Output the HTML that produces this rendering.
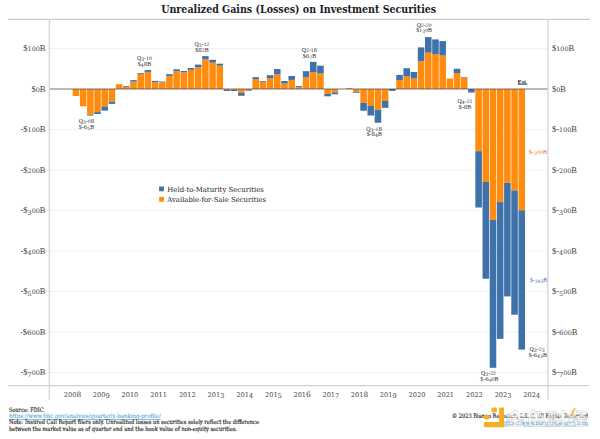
<!DOCTYPE html>
<html><head><meta charset="utf-8">
<style>
html,body{margin:0;padding:0;background:#fff;}
body{width:600px;height:439px;overflow:hidden;position:relative;}
svg{position:absolute;left:0;top:0;}
.ti{font-family:"DejaVu Serif","Liberation Serif",serif;font-weight:bold;font-size:10.2px;fill:#1c1c2a;}
.ax{font-family:"Liberation Serif",serif;font-size:8.5px;fill:#404040;}
.an{font-family:"Liberation Serif",serif;font-size:5.9px;fill:#2a2a2a;}
.lg{font-family:"DejaVu Serif","Liberation Serif",serif;font-size:7px;fill:#1a1a1a;}
.ft{font-family:"DejaVu Serif Condensed","DejaVu Serif","Liberation Serif",serif;font-size:6.1px;fill:#111;stroke:#111;stroke-width:0.12px;}
.lk{font-family:"DejaVu Serif Condensed","DejaVu Serif","Liberation Serif",serif;font-size:6.1px;fill:#3a8fc8;text-decoration:underline;}
.wm{font-family:"Liberation Sans","Noto Sans CJK SC",sans-serif;font-size:17px;font-weight:bold;fill:#fff;fill-opacity:0.72;stroke:#b4b4b4;stroke-opacity:0.75;stroke-width:0.45px;}
</style></head><body>
<svg width="600" height="439" viewBox="0 0 600 439">
<text x="298.7" y="12.6" text-anchor="middle" class="ti" textLength="275" lengthAdjust="spacingAndGlyphs">Unrealized Gains (Losses) on Investment Securities</text>
<line x1="50" x2="547.5" y1="48.50" y2="48.50" stroke="#f1f1f1" stroke-width="1"/>
<line x1="50" x2="547.5" y1="129.50" y2="129.50" stroke="#f1f1f1" stroke-width="1"/>
<line x1="50" x2="547.5" y1="170.00" y2="170.00" stroke="#f1f1f1" stroke-width="1"/>
<line x1="50" x2="547.5" y1="210.50" y2="210.50" stroke="#f1f1f1" stroke-width="1"/>
<line x1="50" x2="547.5" y1="251.00" y2="251.00" stroke="#f1f1f1" stroke-width="1"/>
<line x1="50" x2="547.5" y1="291.50" y2="291.50" stroke="#f1f1f1" stroke-width="1"/>
<line x1="50" x2="547.5" y1="332.00" y2="332.00" stroke="#f1f1f1" stroke-width="1"/>
<line x1="50" x2="547.5" y1="372.50" y2="372.50" stroke="#f1f1f1" stroke-width="1"/>
<line x1="8" x2="590" y1="19.4" y2="19.4" stroke="#cbcbcb" stroke-width="1.3"/>
<line x1="8" x2="589" y1="385.7" y2="385.7" stroke="#cfcfcf" stroke-width="1.3"/>
<line x1="49.4" x2="49.4" y1="19" y2="400" stroke="#d3d3d3" stroke-width="1.3"/>
<line x1="547.9" x2="547.9" y1="19" y2="400" stroke="#d3d3d3" stroke-width="1.3"/>
<rect x="72.70" y="89.00" width="6.55" height="7.00" fill="#ff8c0f"/>
<rect x="79.89" y="89.00" width="6.55" height="17.30" fill="#ff8c0f"/>
<rect x="87.08" y="89.00" width="6.55" height="25.80" fill="#ff8c0f"/>
<rect x="87.08" y="114.80" width="6.55" height="0.80" fill="#3e72a8"/>
<rect x="94.27" y="89.00" width="6.55" height="23.10" fill="#ff8c0f"/>
<rect x="94.27" y="112.10" width="6.55" height="1.90" fill="#3e72a8"/>
<rect x="101.46" y="89.00" width="6.55" height="17.60" fill="#ff8c0f"/>
<rect x="101.46" y="106.60" width="6.55" height="4.00" fill="#3e72a8"/>
<rect x="108.65" y="89.00" width="6.55" height="12.60" fill="#ff8c0f"/>
<rect x="108.65" y="101.60" width="6.55" height="2.30" fill="#3e72a8"/>
<rect x="115.84" y="84.20" width="6.55" height="4.80" fill="#ff8c0f"/>
<rect x="123.03" y="87.00" width="6.55" height="2.00" fill="#ff8c0f"/>
<rect x="123.03" y="86.20" width="6.55" height="0.80" fill="#3e72a8"/>
<rect x="130.22" y="81.70" width="6.55" height="7.30" fill="#ff8c0f"/>
<rect x="130.22" y="80.10" width="6.55" height="1.60" fill="#3e72a8"/>
<rect x="137.41" y="73.90" width="6.55" height="15.10" fill="#ff8c0f"/>
<rect x="137.41" y="73.10" width="6.55" height="0.80" fill="#3e72a8"/>
<rect x="144.60" y="71.90" width="6.55" height="17.10" fill="#ff8c0f"/>
<rect x="144.60" y="70.00" width="6.55" height="1.90" fill="#3e72a8"/>
<rect x="151.79" y="82.10" width="6.55" height="6.90" fill="#ff8c0f"/>
<rect x="151.79" y="80.90" width="6.55" height="1.20" fill="#3e72a8"/>
<rect x="158.98" y="82.10" width="6.55" height="6.90" fill="#ff8c0f"/>
<rect x="158.98" y="81.50" width="6.55" height="0.60" fill="#3e72a8"/>
<rect x="166.17" y="75.90" width="6.55" height="13.10" fill="#ff8c0f"/>
<rect x="166.17" y="74.20" width="6.55" height="1.70" fill="#3e72a8"/>
<rect x="173.36" y="71.20" width="6.55" height="17.80" fill="#ff8c0f"/>
<rect x="173.36" y="69.30" width="6.55" height="1.90" fill="#3e72a8"/>
<rect x="180.55" y="72.20" width="6.55" height="16.80" fill="#ff8c0f"/>
<rect x="180.55" y="71.00" width="6.55" height="1.20" fill="#3e72a8"/>
<rect x="187.74" y="69.80" width="6.55" height="19.20" fill="#ff8c0f"/>
<rect x="187.74" y="68.00" width="6.55" height="1.80" fill="#3e72a8"/>
<rect x="194.93" y="67.10" width="6.55" height="21.90" fill="#ff8c0f"/>
<rect x="194.93" y="64.60" width="6.55" height="2.50" fill="#3e72a8"/>
<rect x="202.12" y="59.10" width="6.55" height="29.90" fill="#ff8c0f"/>
<rect x="202.12" y="56.10" width="6.55" height="3.00" fill="#3e72a8"/>
<rect x="209.31" y="62.60" width="6.55" height="26.40" fill="#ff8c0f"/>
<rect x="209.31" y="59.80" width="6.55" height="2.80" fill="#3e72a8"/>
<rect x="216.50" y="65.70" width="6.55" height="23.30" fill="#ff8c0f"/>
<rect x="216.50" y="63.70" width="6.55" height="2.00" fill="#3e72a8"/>
<rect x="223.69" y="89.00" width="6.55" height="1.00" fill="#ff8c0f"/>
<rect x="223.69" y="90.00" width="6.55" height="1.00" fill="#3e72a8"/>
<rect x="230.88" y="89.00" width="6.55" height="1.00" fill="#ff8c0f"/>
<rect x="230.88" y="90.00" width="6.55" height="1.00" fill="#3e72a8"/>
<rect x="238.07" y="89.00" width="6.55" height="4.00" fill="#ff8c0f"/>
<rect x="238.07" y="93.00" width="6.55" height="2.80" fill="#3e72a8"/>
<rect x="245.26" y="89.00" width="6.55" height="0.90" fill="#ff8c0f"/>
<rect x="245.26" y="89.90" width="6.55" height="0.80" fill="#3e72a8"/>
<rect x="252.45" y="79.00" width="6.55" height="10.00" fill="#ff8c0f"/>
<rect x="252.45" y="77.20" width="6.55" height="1.80" fill="#3e72a8"/>
<rect x="259.64" y="81.80" width="6.55" height="7.20" fill="#ff8c0f"/>
<rect x="259.64" y="81.00" width="6.55" height="0.80" fill="#3e72a8"/>
<rect x="266.83" y="78.20" width="6.55" height="10.80" fill="#ff8c0f"/>
<rect x="266.83" y="75.20" width="6.55" height="3.00" fill="#3e72a8"/>
<rect x="274.02" y="74.20" width="6.55" height="14.80" fill="#ff8c0f"/>
<rect x="274.02" y="69.00" width="6.55" height="5.20" fill="#3e72a8"/>
<rect x="281.21" y="83.50" width="6.55" height="5.50" fill="#ff8c0f"/>
<rect x="281.21" y="81.00" width="6.55" height="2.50" fill="#3e72a8"/>
<rect x="288.40" y="79.90" width="6.55" height="9.10" fill="#ff8c0f"/>
<rect x="288.40" y="76.00" width="6.55" height="3.90" fill="#3e72a8"/>
<rect x="295.59" y="87.20" width="6.55" height="1.80" fill="#ff8c0f"/>
<rect x="295.59" y="86.10" width="6.55" height="1.10" fill="#3e72a8"/>
<rect x="302.78" y="77.20" width="6.55" height="11.80" fill="#ff8c0f"/>
<rect x="302.78" y="71.20" width="6.55" height="6.00" fill="#3e72a8"/>
<rect x="309.97" y="72.10" width="6.55" height="16.90" fill="#ff8c0f"/>
<rect x="309.97" y="61.90" width="6.55" height="10.20" fill="#3e72a8"/>
<rect x="317.16" y="73.50" width="6.55" height="15.50" fill="#ff8c0f"/>
<rect x="317.16" y="65.70" width="6.55" height="7.80" fill="#3e72a8"/>
<rect x="324.35" y="89.00" width="6.55" height="5.00" fill="#ff8c0f"/>
<rect x="324.35" y="94.00" width="6.55" height="2.30" fill="#3e72a8"/>
<rect x="331.54" y="89.00" width="6.55" height="3.40" fill="#ff8c0f"/>
<rect x="331.54" y="92.40" width="6.55" height="1.90" fill="#3e72a8"/>
<rect x="345.92" y="88.00" width="6.55" height="1.00" fill="#ff8c0f"/>
<rect x="353.11" y="89.00" width="6.55" height="3.00" fill="#ff8c0f"/>
<rect x="353.11" y="92.00" width="6.55" height="0.80" fill="#3e72a8"/>
<rect x="360.30" y="89.00" width="6.55" height="13.70" fill="#ff8c0f"/>
<rect x="360.30" y="102.70" width="6.55" height="8.00" fill="#3e72a8"/>
<rect x="367.49" y="89.00" width="6.55" height="16.90" fill="#ff8c0f"/>
<rect x="367.49" y="105.90" width="6.55" height="9.60" fill="#3e72a8"/>
<rect x="374.68" y="89.00" width="6.55" height="20.90" fill="#ff8c0f"/>
<rect x="374.68" y="109.90" width="6.55" height="12.80" fill="#3e72a8"/>
<rect x="381.87" y="89.00" width="6.55" height="12.00" fill="#ff8c0f"/>
<rect x="381.87" y="101.00" width="6.55" height="6.80" fill="#3e72a8"/>
<rect x="389.06" y="89.00" width="6.55" height="1.90" fill="#3e72a8"/>
<rect x="396.25" y="80.00" width="6.55" height="9.00" fill="#ff8c0f"/>
<rect x="396.25" y="74.90" width="6.55" height="5.10" fill="#3e72a8"/>
<rect x="403.44" y="76.40" width="6.55" height="12.60" fill="#ff8c0f"/>
<rect x="403.44" y="68.20" width="6.55" height="8.20" fill="#3e72a8"/>
<rect x="410.63" y="78.50" width="6.55" height="10.50" fill="#ff8c0f"/>
<rect x="410.63" y="72.00" width="6.55" height="6.50" fill="#3e72a8"/>
<rect x="417.82" y="61.30" width="6.55" height="27.70" fill="#ff8c0f"/>
<rect x="417.82" y="47.40" width="6.55" height="13.90" fill="#3e72a8"/>
<rect x="425.01" y="52.60" width="6.55" height="36.40" fill="#ff8c0f"/>
<rect x="425.01" y="37.10" width="6.55" height="15.50" fill="#3e72a8"/>
<rect x="432.20" y="54.00" width="6.55" height="35.00" fill="#ff8c0f"/>
<rect x="432.20" y="39.40" width="6.55" height="14.60" fill="#3e72a8"/>
<rect x="439.39" y="55.50" width="6.55" height="33.50" fill="#ff8c0f"/>
<rect x="439.39" y="41.10" width="6.55" height="14.40" fill="#3e72a8"/>
<rect x="446.58" y="78.50" width="6.55" height="10.50" fill="#ff8c0f"/>
<rect x="453.77" y="73.00" width="6.55" height="16.00" fill="#ff8c0f"/>
<rect x="453.77" y="68.80" width="6.55" height="4.20" fill="#3e72a8"/>
<rect x="460.96" y="77.50" width="6.55" height="11.50" fill="#ff8c0f"/>
<rect x="460.96" y="77.00" width="6.55" height="0.50" fill="#3e72a8"/>
<rect x="468.15" y="89.00" width="6.55" height="3.50" fill="#3e72a8"/>
<rect x="475.34" y="89.00" width="6.55" height="62.20" fill="#ff8c0f"/>
<rect x="475.34" y="151.20" width="6.55" height="56.30" fill="#3e72a8"/>
<rect x="482.53" y="89.00" width="6.55" height="93.00" fill="#ff8c0f"/>
<rect x="482.53" y="182.00" width="6.55" height="96.70" fill="#3e72a8"/>
<rect x="489.72" y="89.00" width="6.55" height="130.80" fill="#ff8c0f"/>
<rect x="489.72" y="219.80" width="6.55" height="148.00" fill="#3e72a8"/>
<rect x="496.91" y="89.00" width="6.55" height="113.10" fill="#ff8c0f"/>
<rect x="496.91" y="202.10" width="6.55" height="136.80" fill="#3e72a8"/>
<rect x="504.10" y="89.00" width="6.55" height="93.90" fill="#ff8c0f"/>
<rect x="504.10" y="182.90" width="6.55" height="113.50" fill="#3e72a8"/>
<rect x="511.29" y="89.00" width="6.55" height="101.50" fill="#ff8c0f"/>
<rect x="511.29" y="190.50" width="6.55" height="124.20" fill="#3e72a8"/>
<rect x="518.48" y="89.00" width="6.55" height="121.30" fill="#ff8c0f"/>
<rect x="518.48" y="210.30" width="6.55" height="139.30" fill="#3e72a8"/>
<line x1="50" x2="547.4" y1="89.00" y2="89.00" stroke="#474747" stroke-opacity="0.5" stroke-width="1.6"/>
<text x="45.5" y="51.10" text-anchor="end" class="ax">$<tspan font-family="DejaVu Serif" font-size="6.4">1</tspan><tspan font-family="DejaVu Serif" font-size="6.4">0</tspan><tspan font-family="DejaVu Serif" font-size="6.4">0</tspan>B</text>
<text x="552" y="51.10" class="ax">$<tspan font-family="DejaVu Serif" font-size="6.4">1</tspan><tspan font-family="DejaVu Serif" font-size="6.4">0</tspan><tspan font-family="DejaVu Serif" font-size="6.4">0</tspan>B</text>
<text x="45.5" y="91.60" text-anchor="end" class="ax">$<tspan font-family="DejaVu Serif" font-size="6.4">0</tspan>B</text>
<text x="552" y="91.60" class="ax">$<tspan font-family="DejaVu Serif" font-size="6.4">0</tspan>B</text>
<text x="45.5" y="132.10" text-anchor="end" class="ax">-$<tspan font-family="DejaVu Serif" font-size="6.4">1</tspan><tspan font-family="DejaVu Serif" font-size="6.4">0</tspan><tspan font-family="DejaVu Serif" font-size="6.4">0</tspan>B</text>
<text x="552" y="132.10" class="ax">$-<tspan font-family="DejaVu Serif" font-size="6.4">1</tspan><tspan font-family="DejaVu Serif" font-size="6.4">0</tspan><tspan font-family="DejaVu Serif" font-size="6.4">0</tspan>B</text>
<text x="45.5" y="172.60" text-anchor="end" class="ax">-$<tspan font-family="DejaVu Serif" font-size="6.4">2</tspan><tspan font-family="DejaVu Serif" font-size="6.4">0</tspan><tspan font-family="DejaVu Serif" font-size="6.4">0</tspan>B</text>
<text x="552" y="172.60" class="ax">$-<tspan font-family="DejaVu Serif" font-size="6.4">2</tspan><tspan font-family="DejaVu Serif" font-size="6.4">0</tspan><tspan font-family="DejaVu Serif" font-size="6.4">0</tspan>B</text>
<text x="45.5" y="213.10" text-anchor="end" class="ax">-$<tspan font-family="DejaVu Serif" font-size="6.4" dy="1.4">3</tspan><tspan font-family="DejaVu Serif" font-size="6.4" dy="-1.4">0</tspan><tspan font-family="DejaVu Serif" font-size="6.4">0</tspan>B</text>
<text x="552" y="213.10" class="ax">$-<tspan font-family="DejaVu Serif" font-size="6.4" dy="1.4">3</tspan><tspan font-family="DejaVu Serif" font-size="6.4" dy="-1.4">0</tspan><tspan font-family="DejaVu Serif" font-size="6.4">0</tspan>B</text>
<text x="45.5" y="253.60" text-anchor="end" class="ax">-$<tspan font-family="DejaVu Serif" font-size="6.4" dy="1.4">4</tspan><tspan font-family="DejaVu Serif" font-size="6.4" dy="-1.4">0</tspan><tspan font-family="DejaVu Serif" font-size="6.4">0</tspan>B</text>
<text x="552" y="253.60" class="ax">$-<tspan font-family="DejaVu Serif" font-size="6.4" dy="1.4">4</tspan><tspan font-family="DejaVu Serif" font-size="6.4" dy="-1.4">0</tspan><tspan font-family="DejaVu Serif" font-size="6.4">0</tspan>B</text>
<text x="45.5" y="294.10" text-anchor="end" class="ax">-$<tspan font-family="DejaVu Serif" font-size="6.4" dy="1.4">5</tspan><tspan font-family="DejaVu Serif" font-size="6.4" dy="-1.4">0</tspan><tspan font-family="DejaVu Serif" font-size="6.4">0</tspan>B</text>
<text x="552" y="294.10" class="ax">$-<tspan font-family="DejaVu Serif" font-size="6.4" dy="1.4">5</tspan><tspan font-family="DejaVu Serif" font-size="6.4" dy="-1.4">0</tspan><tspan font-family="DejaVu Serif" font-size="6.4">0</tspan>B</text>
<text x="45.5" y="334.60" text-anchor="end" class="ax">-$<tspan font-family="DejaVu Serif" font-size="7.20">6</tspan><tspan font-family="DejaVu Serif" font-size="6.4">0</tspan><tspan font-family="DejaVu Serif" font-size="6.4">0</tspan>B</text>
<text x="552" y="334.60" class="ax">$-<tspan font-family="DejaVu Serif" font-size="7.20">6</tspan><tspan font-family="DejaVu Serif" font-size="6.4">0</tspan><tspan font-family="DejaVu Serif" font-size="6.4">0</tspan>B</text>
<text x="45.5" y="375.10" text-anchor="end" class="ax">-$<tspan font-family="DejaVu Serif" font-size="6.4" dy="1.4">7</tspan><tspan font-family="DejaVu Serif" font-size="6.4" dy="-1.4">0</tspan><tspan font-family="DejaVu Serif" font-size="6.4">0</tspan>B</text>
<text x="552" y="375.10" class="ax">$-<tspan font-family="DejaVu Serif" font-size="6.4" dy="1.4">7</tspan><tspan font-family="DejaVu Serif" font-size="6.4" dy="-1.4">0</tspan><tspan font-family="DejaVu Serif" font-size="6.4">0</tspan>B</text>
<text x="72.50" y="397.1" text-anchor="middle" class="ax"><tspan font-family="DejaVu Serif" font-size="6.6">2</tspan><tspan font-family="DejaVu Serif" font-size="6.6">0</tspan><tspan font-family="DejaVu Serif" font-size="6.6">0</tspan><tspan font-family="DejaVu Serif" font-size="7.40">8</tspan></text>
<text x="101.20" y="397.1" text-anchor="middle" class="ax"><tspan font-family="DejaVu Serif" font-size="6.6">2</tspan><tspan font-family="DejaVu Serif" font-size="6.6">0</tspan><tspan font-family="DejaVu Serif" font-size="6.6">0</tspan><tspan font-family="DejaVu Serif" font-size="6.6" dy="1.1">9</tspan></text>
<text x="129.91" y="397.1" text-anchor="middle" class="ax"><tspan font-family="DejaVu Serif" font-size="6.6">2</tspan><tspan font-family="DejaVu Serif" font-size="6.6">0</tspan><tspan font-family="DejaVu Serif" font-size="6.6">1</tspan><tspan font-family="DejaVu Serif" font-size="6.6">0</tspan></text>
<text x="158.61" y="397.1" text-anchor="middle" class="ax"><tspan font-family="DejaVu Serif" font-size="6.6">2</tspan><tspan font-family="DejaVu Serif" font-size="6.6">0</tspan><tspan font-family="DejaVu Serif" font-size="6.6">1</tspan><tspan font-family="DejaVu Serif" font-size="6.6">1</tspan></text>
<text x="187.31" y="397.1" text-anchor="middle" class="ax"><tspan font-family="DejaVu Serif" font-size="6.6">2</tspan><tspan font-family="DejaVu Serif" font-size="6.6">0</tspan><tspan font-family="DejaVu Serif" font-size="6.6">1</tspan><tspan font-family="DejaVu Serif" font-size="6.6">2</tspan></text>
<text x="216.01" y="397.1" text-anchor="middle" class="ax"><tspan font-family="DejaVu Serif" font-size="6.6">2</tspan><tspan font-family="DejaVu Serif" font-size="6.6">0</tspan><tspan font-family="DejaVu Serif" font-size="6.6">1</tspan><tspan font-family="DejaVu Serif" font-size="6.6" dy="1.1">3</tspan></text>
<text x="244.72" y="397.1" text-anchor="middle" class="ax"><tspan font-family="DejaVu Serif" font-size="6.6">2</tspan><tspan font-family="DejaVu Serif" font-size="6.6">0</tspan><tspan font-family="DejaVu Serif" font-size="6.6">1</tspan><tspan font-family="DejaVu Serif" font-size="6.6" dy="1.1">4</tspan></text>
<text x="273.42" y="397.1" text-anchor="middle" class="ax"><tspan font-family="DejaVu Serif" font-size="6.6">2</tspan><tspan font-family="DejaVu Serif" font-size="6.6">0</tspan><tspan font-family="DejaVu Serif" font-size="6.6">1</tspan><tspan font-family="DejaVu Serif" font-size="6.6" dy="1.1">5</tspan></text>
<text x="302.12" y="397.1" text-anchor="middle" class="ax"><tspan font-family="DejaVu Serif" font-size="6.6">2</tspan><tspan font-family="DejaVu Serif" font-size="6.6">0</tspan><tspan font-family="DejaVu Serif" font-size="6.6">1</tspan><tspan font-family="DejaVu Serif" font-size="7.40">6</tspan></text>
<text x="330.83" y="397.1" text-anchor="middle" class="ax"><tspan font-family="DejaVu Serif" font-size="6.6">2</tspan><tspan font-family="DejaVu Serif" font-size="6.6">0</tspan><tspan font-family="DejaVu Serif" font-size="6.6">1</tspan><tspan font-family="DejaVu Serif" font-size="6.6" dy="1.1">7</tspan></text>
<text x="359.53" y="397.1" text-anchor="middle" class="ax"><tspan font-family="DejaVu Serif" font-size="6.6">2</tspan><tspan font-family="DejaVu Serif" font-size="6.6">0</tspan><tspan font-family="DejaVu Serif" font-size="6.6">1</tspan><tspan font-family="DejaVu Serif" font-size="7.40">8</tspan></text>
<text x="388.23" y="397.1" text-anchor="middle" class="ax"><tspan font-family="DejaVu Serif" font-size="6.6">2</tspan><tspan font-family="DejaVu Serif" font-size="6.6">0</tspan><tspan font-family="DejaVu Serif" font-size="6.6">1</tspan><tspan font-family="DejaVu Serif" font-size="6.6" dy="1.1">9</tspan></text>
<text x="416.94" y="397.1" text-anchor="middle" class="ax"><tspan font-family="DejaVu Serif" font-size="6.6">2</tspan><tspan font-family="DejaVu Serif" font-size="6.6">0</tspan><tspan font-family="DejaVu Serif" font-size="6.6">2</tspan><tspan font-family="DejaVu Serif" font-size="6.6">0</tspan></text>
<text x="445.64" y="397.1" text-anchor="middle" class="ax"><tspan font-family="DejaVu Serif" font-size="6.6">2</tspan><tspan font-family="DejaVu Serif" font-size="6.6">0</tspan><tspan font-family="DejaVu Serif" font-size="6.6">2</tspan><tspan font-family="DejaVu Serif" font-size="6.6">1</tspan></text>
<text x="474.34" y="397.1" text-anchor="middle" class="ax"><tspan font-family="DejaVu Serif" font-size="6.6">2</tspan><tspan font-family="DejaVu Serif" font-size="6.6">0</tspan><tspan font-family="DejaVu Serif" font-size="6.6">2</tspan><tspan font-family="DejaVu Serif" font-size="6.6">2</tspan></text>
<text x="503.05" y="397.1" text-anchor="middle" class="ax"><tspan font-family="DejaVu Serif" font-size="6.6">2</tspan><tspan font-family="DejaVu Serif" font-size="6.6">0</tspan><tspan font-family="DejaVu Serif" font-size="6.6">2</tspan><tspan font-family="DejaVu Serif" font-size="6.6" dy="1.1">3</tspan></text>
<text x="531.75" y="397.1" text-anchor="middle" class="ax"><tspan font-family="DejaVu Serif" font-size="6.6">2</tspan><tspan font-family="DejaVu Serif" font-size="6.6">0</tspan><tspan font-family="DejaVu Serif" font-size="6.6">2</tspan><tspan font-family="DejaVu Serif" font-size="6.6" dy="1.1">4</tspan></text>
<text x="86.45" y="122.70" text-anchor="middle" class="an">Q<tspan font-family="DejaVu Serif" font-size="4.6" dy="1">3</tspan><tspan  dy="-1">-</tspan><tspan font-family="DejaVu Serif" font-size="4.6">0</tspan><tspan font-family="DejaVu Serif" font-size="5.50">8</tspan></text>
<text x="86.45" y="128.60" text-anchor="middle" class="an">$-<tspan font-family="DejaVu Serif" font-size="5.50">6</tspan><tspan font-family="DejaVu Serif" font-size="4.6" dy="1">5</tspan><tspan  dy="-1">B</tspan></text>
<text x="144.4" y="60.10" text-anchor="middle" class="an">Q<tspan font-family="DejaVu Serif" font-size="4.6" dy="1">3</tspan><tspan  dy="-1">-</tspan><tspan font-family="DejaVu Serif" font-size="4.6">1</tspan><tspan font-family="DejaVu Serif" font-size="4.6">0</tspan></text>
<text x="144.4" y="65.50" text-anchor="middle" class="an">$<tspan font-family="DejaVu Serif" font-size="4.6" dy="1">4</tspan><tspan font-family="DejaVu Serif" font-size="5.50" dy="-1">8</tspan>B</text>
<text x="202.0" y="46.10" text-anchor="middle" class="an">Q<tspan font-family="DejaVu Serif" font-size="4.6" dy="1">3</tspan><tspan  dy="-1">-</tspan><tspan font-family="DejaVu Serif" font-size="4.6">1</tspan><tspan font-family="DejaVu Serif" font-size="4.6">2</tspan></text>
<text x="202.0" y="51.85" text-anchor="middle" class="an">$<tspan font-family="DejaVu Serif" font-size="5.50">8</tspan><tspan font-family="DejaVu Serif" font-size="4.6">2</tspan>B</text>
<text x="309.5" y="52.05" text-anchor="middle" class="an">Q<tspan font-family="DejaVu Serif" font-size="4.6">2</tspan>-<tspan font-family="DejaVu Serif" font-size="4.6">1</tspan><tspan font-family="DejaVu Serif" font-size="5.50">6</tspan></text>
<text x="309.5" y="57.95" text-anchor="middle" class="an">$<tspan font-family="DejaVu Serif" font-size="5.50">6</tspan><tspan font-family="DejaVu Serif" font-size="4.6" dy="1">7</tspan><tspan  dy="-1">B</tspan></text>
<text x="374.1" y="130.60" text-anchor="middle" class="an">Q<tspan font-family="DejaVu Serif" font-size="4.6" dy="1">3</tspan><tspan  dy="-1">-</tspan><tspan font-family="DejaVu Serif" font-size="4.6">1</tspan><tspan font-family="DejaVu Serif" font-size="5.50">8</tspan></text>
<text x="374.3" y="136.40" text-anchor="middle" class="an">$-<tspan font-family="DejaVu Serif" font-size="5.50">8</tspan><tspan font-family="DejaVu Serif" font-size="4.6" dy="1">4</tspan><tspan  dy="-1">B</tspan></text>
<text x="424.2" y="26.60" text-anchor="middle" class="an">Q<tspan font-family="DejaVu Serif" font-size="4.6">2</tspan>-<tspan font-family="DejaVu Serif" font-size="4.6">2</tspan><tspan font-family="DejaVu Serif" font-size="4.6">0</tspan></text>
<text x="424.2" y="32.40" text-anchor="middle" class="an">$<tspan font-family="DejaVu Serif" font-size="4.6">1</tspan><tspan font-family="DejaVu Serif" font-size="4.6" dy="1">3</tspan><tspan font-family="DejaVu Serif" font-size="4.6" dy="-1">0</tspan>B</text>
<text x="464.9" y="103.30" text-anchor="middle" class="an">Q<tspan font-family="DejaVu Serif" font-size="4.6" dy="1">4</tspan><tspan  dy="-1">-</tspan><tspan font-family="DejaVu Serif" font-size="4.6">2</tspan><tspan font-family="DejaVu Serif" font-size="4.6">1</tspan></text>
<text x="464.9" y="108.50" text-anchor="middle" class="an">$-<tspan font-family="DejaVu Serif" font-size="5.50">8</tspan>B</text>
<text x="488.5" y="375.40" text-anchor="middle" class="an">Q<tspan font-family="DejaVu Serif" font-size="4.6" dy="1">3</tspan><tspan  dy="-1">-</tspan><tspan font-family="DejaVu Serif" font-size="4.6">2</tspan><tspan font-family="DejaVu Serif" font-size="4.6">2</tspan></text>
<text x="489.35" y="381.20" text-anchor="middle" class="an">$-<tspan font-family="DejaVu Serif" font-size="5.50">6</tspan><tspan font-family="DejaVu Serif" font-size="4.6" dy="1">9</tspan><tspan font-family="DejaVu Serif" font-size="4.6" dy="-1">0</tspan>B</text>
<text x="537.05" y="351.30" text-anchor="middle" class="an">Q<tspan font-family="DejaVu Serif" font-size="4.6" dy="1">3</tspan><tspan  dy="-1">-</tspan><tspan font-family="DejaVu Serif" font-size="4.6">2</tspan><tspan font-family="DejaVu Serif" font-size="4.6" dy="1">3</tspan></text>
<text x="537.75" y="356.80" text-anchor="middle" class="an">$-<tspan font-family="DejaVu Serif" font-size="5.50">6</tspan><tspan font-family="DejaVu Serif" font-size="4.6" dy="1">4</tspan><tspan font-family="DejaVu Serif" font-size="4.6">3</tspan><tspan  dy="-1">B</tspan></text>
<text x="522.6" y="83.8" text-anchor="middle" class="an" style="font-weight:bold;fill:#111">Est.</text><rect x="518" y="84.2" width="9.2" height="0.6" fill="#222"/>
<text x="528.8" y="154" class="an" style="fill:#e07a1a" textLength="18.4" lengthAdjust="spacingAndGlyphs">$-<tspan font-family="DejaVu Serif" font-size="4.6" dy="1">3</tspan><tspan font-family="DejaVu Serif" font-size="4.6" dy="-1">0</tspan><tspan font-family="DejaVu Serif" font-size="4.6">0</tspan>B</text>
<text x="530" y="281.8" class="an" style="fill:#3a6ea6" textLength="17" lengthAdjust="spacingAndGlyphs">$-<tspan font-family="DejaVu Serif" font-size="4.6" dy="1">3</tspan><tspan font-family="DejaVu Serif" font-size="4.6">4</tspan><tspan font-family="DejaVu Serif" font-size="4.6">3</tspan><tspan  dy="-1">B</tspan></text>
<rect x="159.1" y="186.5" width="4.8" height="4.8" fill="#3e72a8"/>
<rect x="159.1" y="196.9" width="4.8" height="4.8" fill="#ff8c0f"/>
<text x="167.3" y="191.6" class="lg" textLength="96.5" lengthAdjust="spacingAndGlyphs">Held-to-Maturity Securities</text>
<text x="167.3" y="202" class="lg" textLength="98.7" lengthAdjust="spacingAndGlyphs">Available-for-Sale Securities</text>
<text x="9" y="411.5" class="ft" textLength="36" lengthAdjust="spacingAndGlyphs">Source: FDIC.</text>
<text x="9" y="418" class="lk" textLength="151.7" lengthAdjust="spacingAndGlyphs">https://www.fdic.gov/analysis/quarterly-banking-profile/</text>
<text x="9" y="424.3" class="ft" textLength="250" lengthAdjust="spacingAndGlyphs">Note: Insured Call Report filers only. Unrealized losses on securities solely reflect the difference</text>
<text x="9" y="431.3" class="ft" textLength="228.2" lengthAdjust="spacingAndGlyphs">between the market value as of quarter end and the book value of non-equity securities.</text>
<text x="452" y="417.5" class="ft" textLength="136" lengthAdjust="spacingAndGlyphs">© 2023 Bianco Research, L.L.C. All Rights Reserved</text>
<text x="502.7" y="424.7" class="lk" textLength="85.3" lengthAdjust="spacingAndGlyphs">https://www.biancoresearch.com</text>
<g fill="#f6ae22">
<rect x="499.1" y="407.6" width="4.9" height="19.7" rx="0.8"/>
<rect x="484" y="422" width="20" height="5.3" rx="0.8"/>
<rect x="491.4" y="407.6" width="5.6" height="4.6" rx="1.6"/>
<rect x="484" y="415" width="5.4" height="4.5" rx="1.6"/>
</g>
<text x="505" y="425" class="wm" textLength="83" lengthAdjust="spacingAndGlyphs">金色财经</text>
<path d="M571 415.5 L574.8 408.6" stroke="#f0b12a" stroke-width="1.6" stroke-linecap="round" opacity="0.85"/>
</svg>
</body></html>
